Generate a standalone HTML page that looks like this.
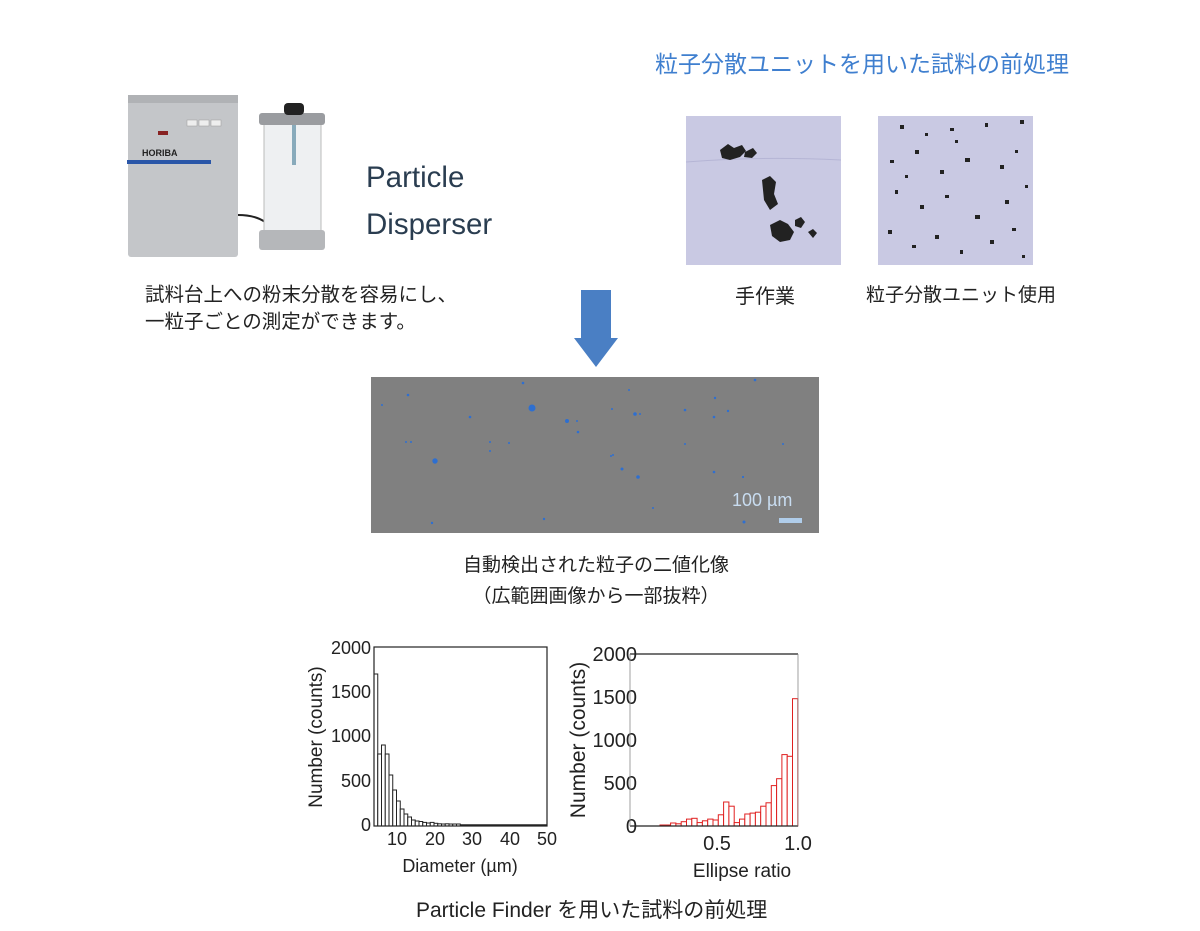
<!DOCTYPE html>
<html><head><meta charset="utf-8"><style>
body{margin:0;width:1200px;height:931px;background:#fff;position:relative;overflow:hidden;font-family:"Liberation Sans","Noto Sans CJK JP",sans-serif}
.t{position:absolute;white-space:nowrap}
</style></head><body>
<div class="t" style="left:655px;top:45px;font-size:23px;color:#3f7fcf">粒子分散ユニットを用いた試料の前処理</div>
<div class="t" style="left:366px;top:154px;font-size:29.5px;color:#2a3d50;line-height:47px">Particle<br>Disperser</div>
<div class="t" style="left:145px;top:282px;font-size:19.5px;color:#222;line-height:27px">試料台上への粉末分散を容易にし、<br>一粒子ごとの測定ができます。</div>
<div class="t" style="left:735px;top:280px;font-size:20px;color:#222">手作業</div>
<div class="t" style="left:866px;top:280px;font-size:19px;color:#222">粒子分散ユニット使用</div>
<div class="t" style="left:446px;top:550px;width:300px;font-size:19px;color:#222;line-height:31px;text-align:center">自動検出された粒子の二値化像<br>（広範囲画像から一部抜粋）</div>
<div class="t" style="left:416px;top:894px;font-size:21px;color:#222">Particle Finder を用いた試料の前処理</div>

<svg width="1200" height="931" style="position:absolute;left:0;top:0">
<rect x="128" y="95" width="110" height="162" rx="3" fill="#c4c6c9"/>
<rect x="128" y="95" width="110" height="8" fill="#b0b2b5"/>
<rect x="127" y="160" width="84" height="4" fill="#2a56a8"/>
<text x="142" y="156" font-size="9" font-weight="bold" fill="#222" font-family="Liberation Sans">HORIBA</text>
<rect x="187" y="120" width="10" height="6" fill="#eee" stroke="#999" stroke-width=".5"/><rect x="199" y="120" width="10" height="6" fill="#eee" stroke="#999" stroke-width=".5"/><rect x="211" y="120" width="10" height="6" fill="#eee" stroke="#999" stroke-width=".5"/>
<rect x="158" y="131" width="10" height="4" fill="#822"/>
<path d="M238 215 Q255 215 265 222" stroke="#222" stroke-width="2" fill="none"/>
<rect x="264" y="118" width="57" height="125" fill="#eef0f2" stroke="#bbb"/>
<rect x="259" y="113" width="66" height="12" rx="3" fill="#9a9ca0"/>
<rect x="259" y="230" width="66" height="20" rx="3" fill="#b5b7ba"/>
<rect x="284" y="103" width="20" height="12" rx="4" fill="#222"/>
<rect x="292" y="125" width="4" height="40" fill="#8ab"/>
<rect x="686" y="116" width="155" height="149" fill="#c9c9e3"/>
<path d="M686 162 Q760 156 841 160" stroke="#b5b5d5" fill="none"/>
<g fill="#222">
<path d="M720 150 l8 -6 6 4 8 -3 4 6 -6 6 -10 3 -8 -2z"/><path d="M745 152 l8 -4 4 5 -5 5 -8 -1z"/>
<path d="M762 180 l8 -4 6 6 -2 12 4 10 -8 6 -6 -10z"/>
<path d="M770 225 l10 -5 8 4 6 8 -4 8 -10 2 -8 -6z"/><path d="M795 220 l6 -3 4 5 -4 6 -6 -2z"/><path d="M808 232 l5 -3 4 4 -4 5z"/>
</g>
<rect x="878" y="116" width="155" height="149" fill="#c9c9e3"/>
<g fill="#222">
<rect x="900" y="125" width="4" height="4"/><rect x="925" y="133" width="3" height="3"/><rect x="950" y="128" width="4" height="3"/><rect x="985" y="123" width="3" height="4"/><rect x="1020" y="120" width="4" height="4"/>
<rect x="890" y="160" width="4" height="3"/><rect x="915" y="150" width="4" height="4"/><rect x="940" y="170" width="4" height="4"/><rect x="965" y="158" width="5" height="4"/><rect x="1000" y="165" width="4" height="4"/><rect x="1015" y="150" width="3" height="3"/>
<rect x="895" y="190" width="3" height="4"/><rect x="920" y="205" width="4" height="4"/><rect x="945" y="195" width="4" height="3"/><rect x="975" y="215" width="5" height="4"/><rect x="1005" y="200" width="4" height="4"/><rect x="1025" y="185" width="3" height="3"/>
<rect x="888" y="230" width="4" height="4"/><rect x="912" y="245" width="4" height="3"/><rect x="935" y="235" width="4" height="4"/><rect x="960" y="250" width="3" height="4"/><rect x="990" y="240" width="4" height="4"/><rect x="1012" y="228" width="4" height="3"/>
<rect x="905" y="175" width="3" height="3"/><rect x="955" y="140" width="3" height="3"/><rect x="1022" y="255" width="3" height="3"/>
</g>
<path d="M581 290 H611 V338 H618 L596 367 L574 338 H581Z" fill="#4a7fc4"/>
<rect x="371" y="377" width="448" height="156" fill="#808080"/>
<g fill="#2e6fd0">
<circle cx="532" cy="408" r="3.5"/><circle cx="435" cy="461" r="2.7"/><circle cx="567" cy="421" r="2"/><circle cx="635" cy="414" r="1.8"/><circle cx="638" cy="477" r="1.8"/><circle cx="622" cy="469" r="1.5"/>
<circle cx="408" cy="395" r="1.3"/><circle cx="523" cy="383" r="1.3"/><circle cx="470" cy="417" r="1.3"/><circle cx="578" cy="432" r="1.3"/><circle cx="640" cy="414" r="1"/><circle cx="685" cy="410" r="1.3"/><circle cx="714" cy="417" r="1.3"/><circle cx="715" cy="398" r="1.2"/><circle cx="728" cy="411" r="1.2"/><circle cx="755" cy="380" r="1.3"/><circle cx="714" cy="472" r="1.3"/><circle cx="743" cy="477" r="1.1"/><circle cx="744" cy="522" r="1.5"/><circle cx="411" cy="442" r="1"/><circle cx="432" cy="523" r="1.2"/><circle cx="544" cy="519" r="1.2"/><circle cx="653" cy="508" r="1"/><circle cx="613" cy="455" r="1"/><circle cx="611" cy="456" r="1"/><circle cx="685" cy="444" r="1"/><circle cx="783" cy="444" r="1"/><circle cx="577" cy="421" r="1"/><circle cx="509" cy="443" r="1"/><circle cx="490" cy="442" r="1"/><circle cx="629" cy="390" r="1"/><circle cx="406" cy="442" r="1"/><circle cx="382" cy="405" r="1"/><circle cx="490" cy="451" r="1"/><circle cx="612" cy="409" r="1"/>
</g>
<text x="732" y="506" font-size="18" fill="#c8dcf0" font-family="Liberation Sans">100 µm</text>
<rect x="779" y="518" width="23" height="5" fill="#b0cdea"/>
<g font-family="Liberation Sans" font-size="18" fill="#222">
<text x="371" y="654" text-anchor="end">2000</text><text x="371" y="698" text-anchor="end">1500</text><text x="371" y="742" text-anchor="end">1000</text><text x="371" y="787" text-anchor="end">500</text><text x="371" y="831" text-anchor="end">0</text>
<text x="397" y="845" text-anchor="middle">10</text><text x="435" y="845" text-anchor="middle">20</text><text x="472" y="845" text-anchor="middle">30</text><text x="510" y="845" text-anchor="middle">40</text><text x="547" y="845" text-anchor="middle">50</text>
<text x="460" y="872" text-anchor="middle">Diameter (µm)</text>
<text transform="translate(322,737) rotate(-90)" text-anchor="middle" font-size="19">Number (counts)</text>
</g>
<g fill="#fff" stroke="#222" stroke-width="1">
<rect x="374" y="674" width="3.75" height="152"/><rect x="377.75" y="754" width="3.75" height="72"/><rect x="381.5" y="745" width="3.75" height="81"/><rect x="385.25" y="754" width="3.75" height="72"/><rect x="389" y="775" width="3.75" height="51"/><rect x="392.75" y="790" width="3.75" height="36"/><rect x="396.5" y="801" width="3.75" height="25"/><rect x="400.25" y="809" width="3.75" height="17"/><rect x="404" y="814" width="3.75" height="12"/><rect x="407.75" y="817" width="3.75" height="9"/><rect x="411.5" y="820" width="3.75" height="6"/><rect x="415.25" y="821" width="3.75" height="5"/><rect x="419" y="821.5" width="3.75" height="4.5"/><rect x="422.75" y="822.4" width="3.75" height="3.6"/><rect x="426.5" y="823" width="3.75" height="3"/><rect x="430.25" y="822.4" width="3.75" height="3.6"/><rect x="434" y="823.3" width="3.75" height="2.7"/><rect x="437.75" y="823.8" width="3.75" height="2.2"/><rect x="441.5" y="824" width="3.75" height="2"/><rect x="445.25" y="823.8" width="3.75" height="2.2"/><rect x="449" y="824" width="3.75" height="2"/><rect x="452.75" y="824" width="3.75" height="2"/><rect x="456.5" y="824" width="3.75" height="2"/>
</g>
<line x1="460" y1="825" x2="547" y2="825" stroke="#222" stroke-width="1.5"/>
<rect x="374" y="647" width="173" height="179" fill="none" stroke="#222" stroke-width="1.2"/>
<g font-family="Liberation Sans" font-size="20" fill="#222">
<text x="637" y="661" text-anchor="end">2000</text><text x="637" y="704" text-anchor="end">1500</text><text x="637" y="747" text-anchor="end">1000</text><text x="637" y="790" text-anchor="end">500</text><text x="637" y="833" text-anchor="end">0</text>
<text x="717" y="850" text-anchor="middle">0.5</text><text x="798" y="850" text-anchor="middle">1.0</text>
<text x="742" y="877" text-anchor="middle" font-size="19">Ellipse ratio</text>
<text transform="translate(585,740) rotate(-90)" text-anchor="middle" font-size="21">Number (counts)</text>
</g>
<g fill="#fff" stroke="#e02020" stroke-width="1">
<rect x="660" y="825" width="5.3" height="1"/><rect x="665.3" y="825" width="5.3" height="1"/><rect x="670.6" y="823" width="5.3" height="3"/><rect x="675.9" y="823.8" width="5.3" height="2.2"/><rect x="681.2" y="821.7" width="5.3" height="4.3"/><rect x="686.5" y="819.1" width="5.3" height="6.9"/><rect x="691.8" y="818.3" width="5.3" height="7.7"/><rect x="697.1" y="822.6" width="5.3" height="3.4"/><rect x="702.4" y="820.8" width="5.3" height="5.2"/><rect x="707.7" y="819.1" width="5.3" height="6.9"/><rect x="713" y="820" width="5.3" height="6"/><rect x="718.3" y="814.8" width="5.3" height="11.2"/><rect x="723.6" y="802" width="5.3" height="24"/><rect x="728.9" y="806.2" width="5.3" height="19.8"/><rect x="734.2" y="822.6" width="5.3" height="3.4"/><rect x="739.5" y="819.1" width="5.3" height="6.9"/><rect x="744.8" y="814" width="5.3" height="12"/><rect x="750.1" y="813.1" width="5.3" height="12.9"/><rect x="755.4" y="812.2" width="5.3" height="13.8"/><rect x="760.7" y="806.2" width="5.3" height="19.8"/><rect x="766" y="802.8" width="5.3" height="23.2"/><rect x="771.3" y="785.6" width="5.3" height="40.4"/><rect x="776.6" y="778.7" width="5.3" height="47.3"/><rect x="781.9" y="754.6" width="5.3" height="71.4"/><rect x="787.2" y="756.3" width="5.3" height="69.7"/><rect x="792.5" y="698.7" width="5.3" height="127.3"/>
</g>
<line x1="630" y1="654" x2="798" y2="654" stroke="#222" stroke-width="1.2"/>
<line x1="630" y1="826" x2="798" y2="826" stroke="#222" stroke-width="1.2"/>
<line x1="630" y1="654" x2="630" y2="826" stroke="#888" stroke-width=".8"/>
<line x1="798" y1="654" x2="798" y2="826" stroke="#888" stroke-width=".8"/>
</svg>
</body></html>
